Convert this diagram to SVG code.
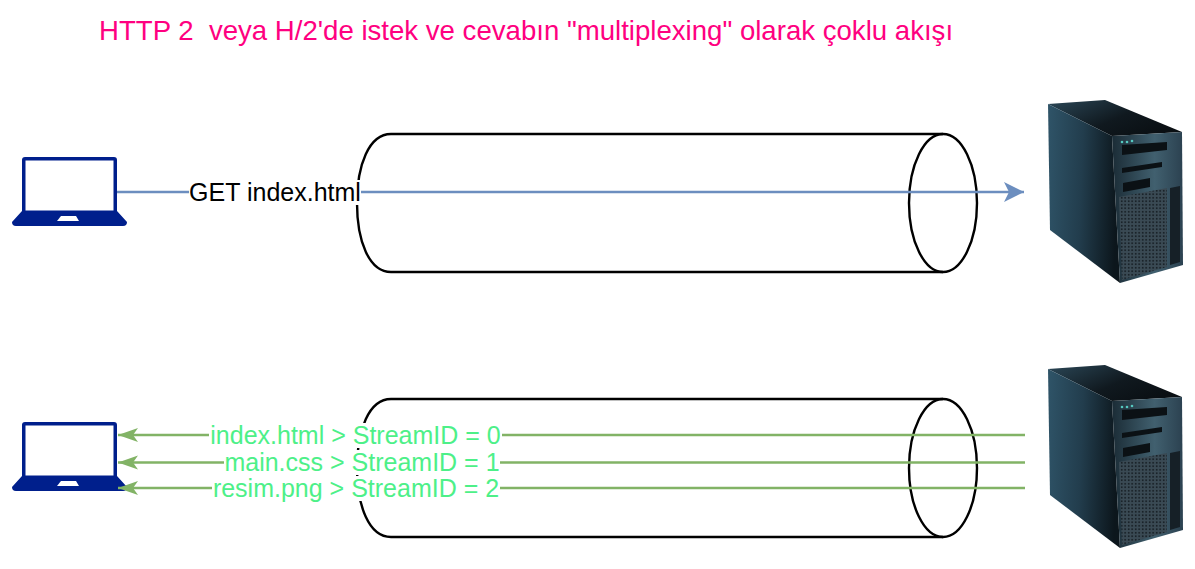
<svg xmlns="http://www.w3.org/2000/svg" width="1195" height="569" viewBox="0 0 1195 569">
<style>
text{font-family:"Liberation Sans",Arial,sans-serif;font-size:25px;white-space:pre}
.title{fill:#ff0080;font-size:27.6px}
.lbl{fill:#000;text-anchor:middle}
.glbl{fill:#4df088;text-anchor:middle}
.cyl{fill:none;stroke:#000;stroke-width:2.4}
.blue{fill:none;stroke:#6c8ebf;stroke-width:2.4;marker-end:url(#ab)}
.green{fill:none;stroke:#82b366;stroke-width:2.4;marker-end:url(#ag)}
.bg{fill:#fff}
</style>
<defs>
<marker id="ab" markerUnits="userSpaceOnUse" markerWidth="22" markerHeight="22" refX="20" refY="11" orient="auto"><path d="M0 1 L20 11 L0 21 L5 11Z" fill="#6c8ebf"/></marker>
<marker id="ag" markerUnits="userSpaceOnUse" markerWidth="22" markerHeight="16" refX="20" refY="8" orient="auto"><path d="M0 1 L20 8 L0 15 L5 8Z" fill="#82b366"/></marker>
<linearGradient id="side" x1="0" y1="0" x2="1" y2="0.1"><stop offset="0" stop-color="#2f5468"/><stop offset="0.5" stop-color="#223d4d"/><stop offset="1" stop-color="#0c161c"/></linearGradient>
<linearGradient id="top" x1="0" y1="0" x2="1" y2="0.6"><stop offset="0" stop-color="#2b4757"/><stop offset="0.6" stop-color="#10191f"/><stop offset="1" stop-color="#0a0f13"/></linearGradient>
<linearGradient id="front" x1="0" y1="0" x2="1" y2="0"><stop offset="0" stop-color="#1b2c36"/><stop offset="0.6" stop-color="#41606f"/><stop offset="1" stop-color="#2b4150"/></linearGradient>
<pattern id="mesh" width="3.5" height="3.5" patternUnits="userSpaceOnUse"><rect width="3.5" height="3.5" fill="#3a4a54"/><circle cx="1.7" cy="1.7" r="0.9" fill="#11181d"/></pattern>
<symbol id="laptop" overflow="visible">
<path d="M12 222 L22 211 V160 Q22 157 25 157 H114 Q117 157 117 160 V211 L127 222 Q127 226 123 226 H16 Q12 226 12 222Z" fill="#001f8c"/>
<rect x="25.500" y="160.500" width="88" height="50" fill="#fff"/>
<path d="M61 216 H76 L79 221 H57Z" fill="#fff"/>
</symbol>
<symbol id="server" overflow="visible">
<path d="M1048 104 L1105 100 L1182 132 L1112 136Z" fill="url(#top)"/>
<path d="M1048 104 L1112 136 L1120 283 L1050 230Z" fill="url(#side)"/>
<path d="M1112 136 L1182 132 L1183 265 L1120 283Z" fill="url(#front)"/>
<circle cx="1122" cy="142" r="1.300" fill="#55c8c0"/><circle cx="1127" cy="142" r="1.300" fill="#55c8c0"/><circle cx="1132" cy="141" r="1.300" fill="#55c8c0"/>
<path d="M1122 145 L1167 142 V150 L1122 155Z" fill="#0b1115"/>
<path d="M1122 168 L1162 162 V167 L1122 173Z" fill="#0b1115"/>
<path d="M1123 183 L1150 178 V187 L1123 192Z" fill="#0b1115"/>
<path d="M1119 197 L1167 188 V267 L1122 280Z" fill="url(#mesh)"/>
<path d="M1170 188 L1180 186 V262 L1170 265Z" fill="#162027"/>
</symbol>
</defs>
<g id="title"><text class="title" x="99" y="40">HTTP 2  veya H/2'de istek ve cevabın "multiplexing" olarak çoklu akışı</text></g>
<g id="client-top"><use href="#laptop"/></g>
<g id="client-bottom"><use href="#laptop" y="265"/></g>
<g id="server-top"><use href="#server"/></g>
<g id="server-bottom"><use href="#server" y="265"/></g>
<g id="pipe-top" class="cyl"><path d="M943 134 H391 C369 134 357 165 357 203 C357 241 369 272 391 272 H943"/><ellipse cx="943" cy="203" rx="34" ry="69"/></g>
<g id="pipe-bottom" class="cyl"><path d="M943 399 H391 C369 399 357 430 357 468 C357 506 369 537 391 537 H943"/><ellipse cx="943" cy="468" rx="34" ry="69"/></g>
<g id="connectors">
<path class="blue" d="M117 192 H1024"/>
<rect class="bg" x="189" y="180" width="172" height="25"/>
<text class="lbl" x="275" y="201">GET index.html</text>
<path class="green" d="M1025 435 H118"/>
<path class="green" d="M1025 462.500 H118"/>
<path class="green" d="M1025 488 H118"/>
<rect class="bg" x="209" y="423" width="293" height="25"/>
<rect class="bg" x="224" y="450" width="276" height="25"/>
<rect class="bg" x="212" y="476" width="288" height="25"/>
<text class="glbl" x="355.500" y="444">index.html &gt; StreamID = 0</text>
<text class="glbl" x="362" y="471">main.css &gt; StreamID = 1</text>
<text class="glbl" x="356" y="497">resim.png &gt; StreamID = 2</text>
</g>
</svg>
